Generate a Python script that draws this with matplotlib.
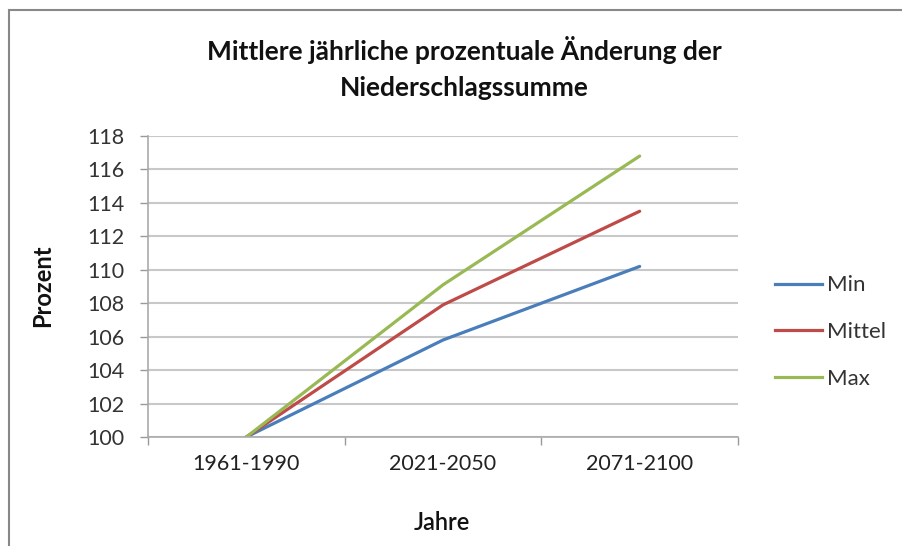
import matplotlib
matplotlib.use("Agg")
import matplotlib.pyplot as plt
from matplotlib.lines import Line2D

categories = ["1961-1990", "2021-2050", "2071-2100"]
series_names = ["Min", "Mittel", "Max"]
min_vals = [100.0, 105.8, 110.2]
mittel_vals = [100.0, 107.9, 113.5]
max_vals = [100.0, 109.1, 116.8]
yticks = [100, 102, 104, 106, 108, 110, 112, 114, 116, 118]

colors = ["#4a7ebb", "#be4b48", "#98b954"]
plt.rcParams['font.family'] = ['Lato', 'DejaVu Sans']

fig = plt.figure(figsize=(9.03, 5.46), dpi=100)
ax = fig.add_axes([148/903, 1-437/546, 590/903, 301/546])

x = list(range(len(categories)))
for vals, name, c in zip([min_vals, mittel_vals, max_vals], series_names, colors):
    ax.plot(x, vals, color=c, lw=2.3, label=name, solid_capstyle='round')

ax.set_xlim(-0.5, 2.5)
ax.set_ylim(100, 118)
ax.set_yticks(yticks)
ax.set_yticklabels([str(v) for v in yticks], fontsize=15.5, color="#333333")
ax.set_xticks(x)
ax.set_xticklabels(categories, fontsize=15.5, color="#222222")
ax.tick_params(axis='x', length=0, pad=12)
ax.set_xticks([-0.5, 0.5, 1.5, 2.5], minor=True)
ax.tick_params(axis='x', which='minor', length=6, color="#999999", width=1)
ax.tick_params(axis='y', length=6, color="#999999", width=1, pad=11)
ax.grid(axis='y', color="#c8c8c8", lw=1.5)
ax.set_axisbelow(True)
for s in ['top', 'right']:
    ax.spines[s].set_visible(False)
for s in ['left', 'bottom']:
    ax.spines[s].set_color("#aaaaaa")
    ax.spines[s].set_linewidth(1.2)

fig.text(43/903, 1-286/546, "Prozent", rotation=90, ha='center', va='center',
         fontsize=17, fontweight='bold', color="#111111")
fig.text(442/903, 1-523/546, "Jahre", ha='center', va='center',
         fontsize=17, fontweight='semibold', color="#111111")

fig.text(464/903, 1-50/546, "Mittlere jährliche prozentuale Änderung der",
         ha='center', va='center', fontsize=19, fontweight='bold', color="#111111")
fig.text(464/903, 1-88/546, "Niederschlagssumme",
         ha='center', va='center', fontsize=19, fontweight='bold', color="#111111")

leg = fig.legend(handles=[Line2D([], [], color=c, lw=2.3) for c in colors],
                 labels=series_names, loc='center left',
                 bbox_to_anchor=(775/903, 1-332/546), frameon=False,
                 fontsize=16, handlelength=2.1, handletextpad=0.25,
                 labelspacing=1.2, borderpad=0, borderaxespad=0)
for t in leg.get_texts():
    t.set_color("#333333")

# outer frame (top and left)
fig.add_artist(Line2D([10/903, 1.0], [1-10/546, 1-10/546], color="#888888", lw=1.5,
                      transform=fig.transFigure))
fig.add_artist(Line2D([9/903, 9/903], [0, 1-10/546], color="#888888", lw=1.5,
                      transform=fig.transFigure))

fig.savefig("out.png", dpi=100)
